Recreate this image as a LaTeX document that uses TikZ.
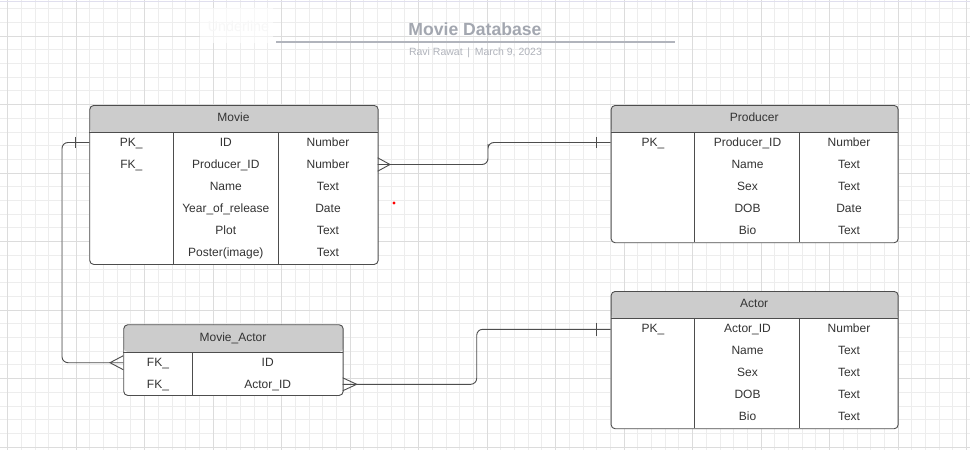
\documentclass[tikz,border=0pt]{standalone}
\usepackage{fontspec}
\setmainfont{Liberation Sans}
\definecolor{gridminor}{HTML}{EDEDED}
\definecolor{gridmajor}{HTML}{DCDCDC}
\definecolor{hdrgray}{HTML}{CCCCCC}
\definecolor{linegray}{HTML}{4D4D4D}
\definecolor{txtgray}{HTML}{333333}
\definecolor{titlegray}{HTML}{A3A7B0}
\definecolor{subgray}{HTML}{B0B3BB}
\tikzset{
  cell/.style={text=txtgray, font=\fontsize{12}{14}\selectfont, inner sep=0pt, text height=8.6pt, text depth=0pt},
  tblline/.style={linegray, line width=0.9pt},
  conn/.style={linegray, line width=0.9pt, rounded corners=6pt},
  tbl/.style={draw=linegray, line width=0.9pt, fill=white, rounded corners=4pt, inner sep=0pt, anchor=north west,
    path picture={\fill[hdrgray] (path picture bounding box.north west) rectangle ([yshift=-27.3pt]path picture bounding box.north east);}},
}
\begin{document}
\begin{tikzpicture}[x=1pt,y=-1pt]
\useasboundingbox (0,0) rectangle (970,450);
\fill[white] (0,0) rectangle (970,450);
% grid
\foreach \i in {0,...,70} \draw[gridminor, line width=0.8pt] ({7.5+13.7*\i},0) -- ({7.5+13.7*\i},450);
\foreach \i in {0,...,32} \draw[gridminor, line width=0.8pt] (0,{8.6+13.7*\i}) -- (970,{8.6+13.7*\i});
\foreach \i in {0,...,14} \draw[gridmajor, line width=1pt] ({7.5+68.5*\i},0) -- ({7.5+68.5*\i},450);
\foreach \i in {0,...,6} \draw[gridmajor, line width=1pt] (0,{36+68.5*\i}) -- (970,{36+68.5*\i});
\draw[color={rgb,255:red,224;green,223;blue,238}, line width=1pt] (0,1.5) -- (970,1.5);

%------------------------------------------------
\fill[white, opacity=0.6] (200,8) rectangle (273,43);
\node[text=black!3, font=\fontsize{14.3}{16}\selectfont] (ghost) at (238.5,26) {Underline};
\node[text=titlegray, font=\bfseries\fontsize{17.6}{20}\selectfont, inner sep=0pt, text height=12.6pt, text depth=0pt] (title) at (475,29) {Movie Database};
\draw[color=titlegray!85, line width=1.8pt] (276,41.7) -- (675,41.7);
\node[text=subgray, font=\fontsize{10.5}{12}\selectfont, inner sep=0pt, text height=7.5pt, text depth=0pt] (sub) at (475.5,52.2) {Ravi Rawat \,|\, March 9, 2023};
\fill[red] (394,203) circle (1.6);

%------------------------------------------------ Movie
\node[tbl, minimum width=288.4pt, minimum height=159pt] (movie) at (89.3,105) {};
\draw[tblline] (89.3,132.3) -- (377.7,132.3);
\draw[tblline] (173.3,132.3) -- (173.3,264);
\draw[tblline] (278.3,132.3) -- (278.3,264);
\node[cell] (movhdr) at (233.5,117) {Movie};
\node[cell] (m1a) at (131.3,142) {PK\_};
\node[cell] (m1b) at (225.8,142) {ID};
\node[cell] (m1c) at (328,142) {Number};
\node[cell] (m2a) at (131.3,164) {FK\_};
\node[cell] (m2b) at (225.8,164) {Producer\_ID};
\node[cell] (m2c) at (328,164) {Number};
\node[cell] (m3b) at (225.8,186) {Name};
\node[cell] (m3c) at (328,186) {Text};
\node[cell] (m4b) at (225.8,208) {Year\_of\_release};
\node[cell] (m4c) at (328,208) {Date};
\node[cell] (m5b) at (225.8,230) {Plot};
\node[cell] (m5c) at (328,230) {Text};
\node[cell] (m6b) at (225.8,252) {Poster(image)};
\node[cell] (m6c) at (328,252) {Text};

%------------------------------------------------ Producer
\node[tbl, minimum width=287pt, minimum height=137.3pt] (producer) at (610.7,105) {};
\draw[tblline] (610.7,132.3) -- (897.7,132.3);
\draw[tblline] (694.3,132.3) -- (694.3,242.3);
\draw[tblline] (799.3,132.3) -- (799.3,242.3);
\node[cell] (prodhdr) at (754.2,117) {Producer};
\node[cell] (p1a) at (653,142) {PK\_};
\node[cell] (p1b) at (747.5,142) {Producer\_ID};
\node[cell] (p1c) at (849,142) {Number};
\node[cell] (p2b) at (747.5,164) {Name};
\node[cell] (p2c) at (849,164) {Text};
\node[cell] (p3b) at (747.5,186) {Sex};
\node[cell] (p3c) at (849,186) {Text};
\node[cell] (p4b) at (747.5,208) {DOB};
\node[cell] (p4c) at (849,208) {Date};
\node[cell] (p5b) at (747.5,230) {Bio};
\node[cell] (p5c) at (849,230) {Text};

%------------------------------------------------ Actor
\node[tbl, minimum width=287pt, minimum height=137.3pt] (actor) at (610.7,291) {};
\draw[tblline] (610.7,318.3) -- (897.7,318.3);
\draw[tblline] (694.3,318.3) -- (694.3,428.3);
\draw[tblline] (799.3,318.3) -- (799.3,428.3);
\node[cell] (acthdr) at (754.2,303.6) {Actor};
\node[cell] (a1a) at (653,328.5) {PK\_};
\node[cell] (a1b) at (747.5,328.5) {Actor\_ID};
\node[cell] (a1c) at (849,328.5) {Number};
\node[cell] (a2b) at (747.5,350.5) {Name};
\node[cell] (a2c) at (849,350.5) {Text};
\node[cell] (a3b) at (747.5,372.5) {Sex};
\node[cell] (a3c) at (849,372.5) {Text};
\node[cell] (a4b) at (747.5,394.5) {DOB};
\node[cell] (a4c) at (849,394.5) {Text};
\node[cell] (a5b) at (747.5,416.5) {Bio};
\node[cell] (a5c) at (849,416.5) {Text};

%------------------------------------------------ Movie_Actor
\node[tbl, minimum width=219.4pt, minimum height=70.7pt] (movact) at (123.3,324.3) {};
\draw[tblline] (123.3,352) -- (342.7,352);
\draw[tblline] (192.7,352) -- (192.7,395);
\node[cell] (mahdr) at (233,337) {Movie\_Actor};
\node[cell] (ma1a) at (158,362) {FK\_};
\node[cell] (ma1b) at (267.7,362) {ID};
\node[cell] (ma2a) at (158,384) {FK\_};
\node[cell] (ma2b) at (267.7,384) {Actor\_ID};

%------------------------------------------------ relations
\coordinate (movPK) at (89.3,142.5);
\coordinate (movFK) at (377.7,164.5);
\coordinate (prodPK) at (610.7,142.5);
\coordinate (maFK1) at (123.3,362.7);
\coordinate (maFK2) at (342.7,384.3);
\coordinate (actPK) at (610.7,329.3);
\draw[conn] (movPK) -| (62,250) |- (maFK1);
\draw[conn] (movFK) -| (488,150) |- (prodPK);
\draw[conn] (maFK2) -| (476.7,350) |- (actPK);
% one
\draw[tblline] ([xshift=-13.6pt,yshift=5.6pt]movPK) -- ([xshift=-13.6pt,yshift=-5.6pt]movPK);
\draw[tblline] ([xshift=-14.7pt,yshift=5.6pt]prodPK) -- ([xshift=-14.7pt,yshift=-5.6pt]prodPK);
\draw[tblline] ([xshift=-14pt,yshift=6.5pt]actPK) -- ([xshift=-14pt,yshift=-6.5pt]actPK);
% many
\draw[tblline] ([yshift=7pt]maFK1) -- ([xshift=-13.3pt]maFK1) -- ([yshift=-7pt]maFK1);
\draw[tblline] ([yshift=6.7pt]movFK) -- ([xshift=12.3pt]movFK) -- ([yshift=-6.7pt]movFK);
\draw[tblline] ([yshift=6.5pt]maFK2) -- ([xshift=14pt]maFK2) -- ([yshift=-6.5pt]maFK2);
\end{tikzpicture}
\end{document}
